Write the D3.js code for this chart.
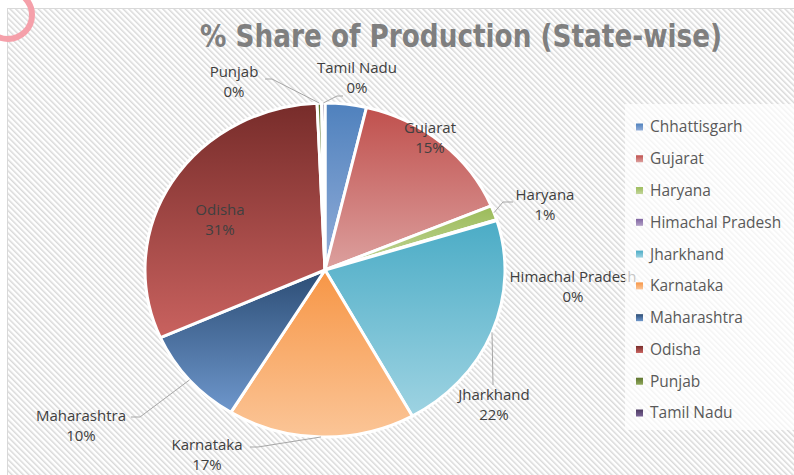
<!DOCTYPE html>
<html><head><meta charset="utf-8">
<script src="https://cdn.jsdelivr.net/npm/d3@7"></script>
<style>body{margin:0;background:#fff}svg{display:block}</style>
</head><body>
<script>
// ---- data ----
const states = ["Chhattisgarh","Gujarat","Haryana","Himachal Pradesh","Jharkhand","Karnataka","Maharashtra","Odisha","Punjab","Tamil Nadu"];
const shares = [3.7, 15.0, 1.4, 0.1, 21.7, 16.8, 9.6, 30.9, 0.4, 0.3];
const topColors = ["#4f81bd","#c0504d","#9bbb59","#8064a2","#4bacc6","#f79646","#2c4d75","#772c2a","#5f7530","#4d3b62"];
const bottomColors = ["#93aed9","#dca09e","#c3d69b","#b3a2c7","#9ed3e2","#fbc597","#6e97cc","#c9625f","#8fa85a","#7a6496"];
const title = "% Share of Production (State-wise)";

// ---- label layout (text placement only) ----
const labelLayout = {
  "Gujarat":          {x:430, y:133},
  "Haryana":          {x:545, y:200, leader:[[503,202],[513,202]]},
  "Himachal Pradesh": {x:573, y:282},
  "Jharkhand":        {x:494, y:400, leader:[[493,385]]},
  "Karnataka":        {x:207, y:450, leader:[[258,447],[250,447]]},
  "Maharashtra":      {x:81,  y:421, leader:[[140,417],[131,417]]},
  "Odisha":           {x:220, y:215},
  "Punjab":           {x:234, y:77,  leader:[[272,79],[265,79]]},
  "Tamil Nadu":       {x:357, y:73,  leader:[[337,96],[343,96]]}
};

const W = 794, H = 475;
const svg = d3.select("body").append("svg").attr("width", W).attr("height", H);
const defs = svg.append("defs");

// hatch pattern
const pat = defs.append("pattern").attr("id","hatch").attr("patternUnits","userSpaceOnUse")
  .attr("width",4).attr("height",4).attr("patternTransform","rotate(-45)");
pat.append("rect").attr("width",4).attr("height",4).attr("fill","#ffffff");
pat.append("rect").attr("x",0).attr("width",1.5).attr("height",4).attr("fill","#d9d9d9");

// slice gradients
states.forEach((s,i)=>{
  const g = defs.append("linearGradient").attr("id","grad"+i).attr("x1",0).attr("y1",0).attr("x2",0).attr("y2",1);
  g.append("stop").attr("offset","0%").attr("stop-color",topColors[i]);
  g.append("stop").attr("offset","100%").attr("stop-color",bottomColors[i]);
});

// chart frame
svg.append("rect").attr("x",7.5).attr("y",8.5).attr("width",W).attr("height",H)
  .attr("fill","url(#hatch)").attr("stroke","#d9d9d9").attr("stroke-width",1);

// pink ring artifact at top-left
svg.append("circle").attr("cx",8).attr("cy",15).attr("r",24)
  .attr("fill","none").attr("stroke","#f5a0aa").attr("stroke-width",6);

// title
svg.append("text").attr("x",200).attr("y",47)
  .attr("textLength",522).attr("lengthAdjust","spacingAndGlyphs")
  .style("font-family","'Liberation Sans Narrow','DejaVu Sans Condensed',sans-serif")
  .style("font-weight","bold").style("font-size","32px").attr("fill","#7f7f7f")
  .text(title);

// pie
const cx = 325, cy = 270, ry = 167, rx = 180;
const sx = rx/ry;
const total = d3.sum(shares);
const pie = d3.pie().sort(null).value(d=>d.v);
const arcs = pie(states.map((s,i)=>({name:s, v:shares[i], i})));
const arc = d3.arc().innerRadius(0).outerRadius(ry);

const pg = svg.append("g").attr("transform",`translate(${cx},${cy}) scale(${sx},1)`);
pg.selectAll("path").data(arcs).join("path")
  .attr("d",arc)
  .attr("fill",d=>`url(#grad${d.data.i})`)
  .attr("stroke","#ffffff").attr("stroke-width",3)
  .attr("vector-effect","non-scaling-stroke")
  .attr("stroke-linejoin","round");

function edgePoint(a){ return [cx + rx*Math.sin(a), cy - ry*Math.cos(a)]; }

// labels
const lg = svg.append("g")
  .style("font-family","'Open Sans','Noto Sans',sans-serif")
  .style("font-size","15px").attr("fill","#404040");
arcs.forEach(d=>{
  const L = labelLayout[d.data.name];
  if(!L) return;
  if(L.leader){
    const mid = (d.startAngle + d.endAngle)/2;
    const pts = [edgePoint(mid)].concat(L.leader);
    svg.append("path").attr("d", d3.line()(pts))
      .attr("fill","none").attr("stroke","#a6a6a6").attr("stroke-width",1);
  }
  const pct = Math.round(d.data.v/total*100) + "%";
  const t = lg.append("text").attr("text-anchor","middle");
  t.append("tspan").attr("x",L.x).attr("y",L.y).text(d.data.name);
  t.append("tspan").attr("x",L.x).attr("y",L.y+20).text(pct);
});

// legend
svg.append("rect").attr("x",625).attr("y",104).attr("width",180).attr("height",326)
  .attr("fill","#ffffff").attr("fill-opacity",0.7);
const legY = d3.scalePoint().domain(states).range([127,413]);
const leg = svg.append("g")
  .style("font-family","'Open Sans','Noto Sans',sans-serif")
  .style("font-size","15.5px").attr("fill","#595959");
states.forEach((s,i)=>{
  const y = legY(s);
  leg.append("rect").attr("x",636).attr("y",y-3.5).attr("width",7).attr("height",7)
    .attr("fill",`url(#grad${i})`);
  leg.append("text").attr("x",650).attr("y",y).attr("dy","0.35em").text(s);
});
</script>
</body></html>
